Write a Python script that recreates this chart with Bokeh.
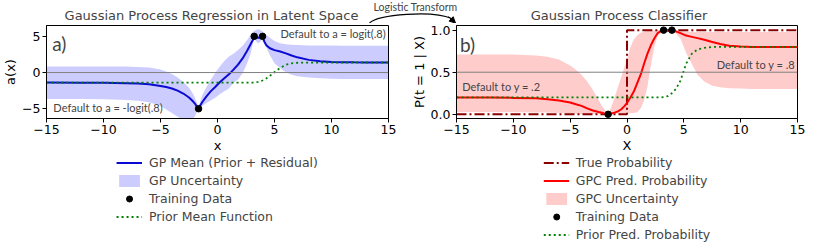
from bokeh.plotting import figure
from bokeh.models import (Range1d, Legend, LegendItem, Label, Arrow, NormalHead,
                          FixedTicker, CustomJSTickFormatter, NumeralTickFormatter, Span)
from bokeh.layouts import column, row
from bokeh.embed import file_html
from bokeh.resources import INLINE

# ---------------- data ----------------
x_ticks = [-15, -10, -5, 0, 5, 10, 15]
a_ticks = [-5, 0, 5]
p_ticks = [0.0, 0.5, 1.0]

# latent space (left panel)
x_lat = [-15, -12, -10, -8, -7, -6, -5, -4.5, -4, -3.5, -3, -2.5, -2.2, -2.0, -1.85, -1.66,
         -1.5, -1.3, -1.0, -0.6, -0.2, 0.2, 0.6, 1.0, 1.4, 1.8, 2.2, 2.6, 2.9, 3.1, 3.22,
         3.4, 3.58, 3.75, 3.95, 4.1, 4.3, 4.6, 5.0, 5.5, 6.0, 6.5, 7.0, 8.0, 9.0, 10, 11, 12, 13, 15]
gp_mean = [-1.39, -1.40, -1.42, -1.47, -1.53, -1.63, -1.85, -2.0, -2.2, -2.5, -2.9, -3.45, -3.9, -4.25, -4.6, -5.0,
           -4.5, -4.0, -3.35, -2.6, -2.0, -1.35, -0.8, -0.25, 0.4, 1.1, 1.95, 3.0, 3.9, 4.5, 5.0,
           4.85, 4.8, 4.85, 5.0, 4.3, 3.75, 3.35, 3.1, 2.9, 2.65, 2.35, 2.1, 1.75, 1.57, 1.47, 1.43, 1.41, 1.4, 1.39]
gp_upper = [0.85, 0.85, 0.85, 0.83, 0.78, 0.68, 0.42, 0.15, -0.2, -0.7, -1.3, -2.1, -2.8, -3.4, -4.0, -4.9,
            -3.9, -3.0, -2.1, -1.0, -0.05, 0.85, 1.6, 2.2, 2.6, 3.1, 3.7, 4.5, 5.2, 5.6, 5.75,
            5.9, 5.97, 5.9, 5.7, 5.45, 5.2, 4.8, 4.35, 4.05, 3.9, 3.83, 3.8, 3.75, 3.73, 3.72, 3.71, 3.7, 3.7, 3.7]
gp_lower = [-3.65, -3.65, -3.68, -3.78, -3.9, -4.1, -4.6, -5.1, -5.6, -6.1, -6.5, -6.6, -6.5, -6.1, -5.6, -5.1,
            -4.9, -4.6, -4.25, -3.85, -3.5, -3.0, -2.6, -2.2, -1.4, -0.95, -0.1, 1.3, 2.6, 4.0, 4.7,
            4.3, 4.0, 4.3, 4.7, 4.1, 3.4, 2.4, 1.3, 0.6, 0.05, -0.3, -0.5, -0.7, -0.8, -0.85, -0.88, -0.9, -0.9, -0.9]
prior_mean = [-1.386, -1.386, -1.386, -1.386, -1.386, -1.386, -1.386, -1.386, -1.386, -1.386, -1.386, -1.386,
              -1.386, -1.386, -1.386, -1.386, -1.386, -1.386, -1.386, -1.386, -1.386, -1.386, -1.386, -1.386,
              -1.386, -1.386, -1.386, -1.386, -1.386, -1.386, -1.37,
              -1.34, -1.3, -1.22, -1.1, -0.98, -0.8, -0.45, 0.05, 0.65, 1.08, 1.28, 1.35, 1.38, 1.386, 1.386,
              1.386, 1.386, 1.386, 1.386]
x_train = [-1.66, 3.22, 3.95]
a_train = [-5.0, 5.0, 5.0]
p_train = [0.0, 1.0, 1.0]

# probability space (right panel)
x_prob = [-15, -12, -10, -8, -7, -6, -5, -4.5, -4, -3.5, -3, -2.5, -2.2, -2.0, -1.85, -1.66,
          -1.4, -1.1, -0.8, -0.5, -0.2, 0.0, 0.3, 0.6, 0.9, 1.2, 1.5, 1.8, 2.1, 2.4, 2.7, 3.0,
          3.22, 3.58, 3.95, 4.3, 4.7, 5.2, 5.7, 6.2, 6.8, 7.5, 8.2, 9.0, 10, 11, 12, 13, 15]
gpc_mean = [0.20, 0.20, 0.195, 0.19, 0.18, 0.165, 0.14, 0.12, 0.1, 0.07, 0.045, 0.028, 0.018, 0.01, 0.005, 0.003,
            0.008, 0.02, 0.035, 0.06, 0.1, 0.135, 0.2, 0.27, 0.37, 0.47, 0.6, 0.72, 0.82, 0.9, 0.965, 0.99,
            0.995, 0.993, 0.995, 0.985, 0.965, 0.935, 0.92, 0.905, 0.885, 0.86, 0.835, 0.815, 0.805, 0.8, 0.8, 0.8, 0.8]
gpc_upper = [0.71, 0.71, 0.71, 0.70, 0.685, 0.65, 0.58, 0.53, 0.47, 0.39, 0.29, 0.17, 0.1, 0.06, 0.03, 0.01,
             0.08, 0.2, 0.32, 0.45, 0.57, 0.65, 0.8, 0.89, 0.94, 0.97, 0.98, 0.99, 0.995, 0.997, 0.998, 0.998,
             0.998, 0.998, 0.998, 0.995, 0.99, 0.985, 0.98, 0.977, 0.977, 0.977, 0.977, 0.977, 0.977, 0.977,
             0.977, 0.977, 0.977]
gpc_lower = [0.025, 0.025, 0.024, 0.022, 0.02, 0.016, 0.01, 0.006, 0.004, 0.002, 0.002, 0.002, 0.002, 0.002,
             0.002, 0.002, 0.003, 0.004, 0.005, 0.006, 0.008, 0.01, 0.012, 0.015, 0.025, 0.07, 0.16, 0.33,
             0.58, 0.8, 0.93, 0.975, 0.985, 0.98, 0.985, 0.96, 0.9, 0.73, 0.6, 0.47, 0.39, 0.34, 0.32, 0.31,
             0.305, 0.3, 0.3, 0.3, 0.3]
prior_prob = [0.2, 0.2, 0.2, 0.2, 0.2, 0.2, 0.2, 0.2, 0.2, 0.2, 0.2, 0.2, 0.2, 0.2, 0.2, 0.2,
              0.2, 0.2, 0.2, 0.2, 0.2, 0.2, 0.2, 0.2, 0.2, 0.2, 0.2, 0.2, 0.2, 0.2, 0.2, 0.2,
              0.205, 0.215, 0.25, 0.3, 0.4, 0.6, 0.72, 0.77, 0.79, 0.8, 0.8, 0.8, 0.8, 0.8, 0.8, 0.8, 0.8]
x_true = [-15, 0, 0, 15]
p_true = [0, 0, 1, 1]

# ---------------- styling ----------------
TICK_FONT = "DejaVu Sans"
NOTE_FONT = "Lato"
FW1, FW2, FH = 342, 341, 93
L1, R1 = 40, 20      # left figure borders
L2, R2 = 46, 8       # right figure borders
ROW_H, ROW_GAP = 15, 3

BLUE = "#0a0ad2"
DARKRED = "#8b0000"

minus_fmt = CustomJSTickFormatter(code="""
    return (tick < 0 ? "\\u2212" : "") + Math.abs(tick).toFixed(0);
""")


def style(p, xlabel, ylabel, yticks, yfmt):
    p.xgrid.visible = False
    p.ygrid.visible = False
    p.outline_line_color = "black"
    p.outline_line_width = 1
    p.xaxis.axis_label = xlabel
    p.yaxis.axis_label = ylabel
    p.xaxis.ticker = FixedTicker(ticks=x_ticks)
    p.yaxis.ticker = FixedTicker(ticks=yticks)
    p.xaxis.formatter = minus_fmt
    p.yaxis.formatter = yfmt
    for ax in p.axis:
        ax.major_tick_out = 4
        ax.major_tick_in = 0
        ax.minor_tick_out = 0
        ax.minor_tick_in = 0
        ax.axis_line_color = "black"
        ax.major_tick_line_color = "black"
        ax.major_label_text_font = TICK_FONT
        ax.major_label_text_font_size = "12.5px"
        ax.major_label_text_color = "black"
        ax.axis_label_text_font = TICK_FONT
        ax.axis_label_text_font_size = "13px"
        ax.axis_label_text_font_style = "normal"
        ax.axis_label_text_color = "black"
        ax.major_label_standoff = 2
        ax.axis_label_standoff = 1


def legend_fig(lb, fw, rb, nrows):
    # legend-only figure; its ranges lie far from the data so only the legend shows
    h = nrows * ROW_H + (nrows - 1) * ROW_GAP + 3
    f = figure(frame_width=fw, frame_height=h, x_range=Range1d(100, 101), y_range=Range1d(100, 101),
               toolbar_location=None, output_backend="svg", x_axis_location=None, y_axis_location=None,
               min_border_left=lb, min_border_right=rb, min_border_top=0, min_border_bottom=0)
    f.grid.visible = False
    f.outline_line_color = None
    return f


def make_legend(items):
    return Legend(items=items, location="top_center", orientation="vertical",
                  label_text_font=TICK_FONT, label_text_font_size="12.5px",
                  glyph_width=26, glyph_height=ROW_H, label_height=ROW_H, spacing=ROW_GAP,
                  padding=0, margin=0, border_line_color=None,
                  background_fill_alpha=0, label_standoff=7)


# ---------------- left panel ----------------
p1 = figure(frame_width=FW1, frame_height=FH, x_range=Range1d(-15, 15), y_range=Range1d(-6.35, 6.5),
            toolbar_location=None, output_backend="svg",
            min_border_left=L1, min_border_right=R1, min_border_top=2, min_border_bottom=0)
style(p1, "x", "a(x)", a_ticks, minus_fmt)

p1.varea(x=x_lat, y1=gp_lower, y2=gp_upper, fill_color="blue", fill_alpha=0.2)
p1.add_layout(Span(location=0, dimension="width", line_color="gray", line_width=1))
p1.line(x_lat, gp_mean, line_color=BLUE, line_width=2)
p1.line(x_lat, prior_mean, line_color="green", line_width=1.8, line_dash="2 3")
p1.scatter(x_train, a_train, size=6.5, color="black")

p1.add_layout(Label(x=-14.5, y=4.0, text="a)", text_font=NOTE_FONT, text_font_size="19px",
                    text_baseline="middle", text_align="left"))
p1.add_layout(Label(x=14.75, y=5.4, text="Default to a = logit(.8)", text_font=NOTE_FONT,
                    text_font_size="11px", text_baseline="middle", text_align="right"))
p1.add_layout(Label(x=-14.4, y=-4.8, text="Default to a = -logit(.8)", text_font=NOTE_FONT,
                    text_font_size="11px", text_baseline="middle", text_align="left"))

lg1 = legend_fig(L1, FW1, R1, 4)
k1 = lg1.line(x_lat, gp_mean, line_color=BLUE, line_width=2)
k2 = lg1.varea(x=x_lat, y1=gp_lower, y2=gp_upper, fill_color="blue", fill_alpha=0.2)
k3 = lg1.scatter(x_train, a_train, size=6.5, color="black")
k4 = lg1.line(x_lat, prior_mean, line_color="green", line_width=1.8, line_dash="2 3")
lg1.add_layout(make_legend([
    LegendItem(label="GP Mean (Prior + Residual)", renderers=[k1]),
    LegendItem(label="GP Uncertainty", renderers=[k2]),
    LegendItem(label="Training Data", renderers=[k3]),
    LegendItem(label="Prior Mean Function", renderers=[k4]),
]))

# ---------------- right panel ----------------
p2 = figure(frame_width=FW2, frame_height=FH, x_range=Range1d(-15, 15), y_range=Range1d(-0.05, 1.055),
            toolbar_location=None, output_backend="svg",
            min_border_left=L2, min_border_right=R2, min_border_top=2, min_border_bottom=0)
style(p2, "X", "P(t = 1 | X)", p_ticks, NumeralTickFormatter(format="0.0"))

p2.varea(x=x_prob, y1=gpc_lower, y2=gpc_upper, fill_color="red", fill_alpha=0.2)
p2.add_layout(Span(location=0.5, dimension="width", line_color="gray", line_width=1))
p2.line(x_true, p_true, line_color=DARKRED, line_width=2, line_dash="10 3 2 3")
p2.line(x_prob, gpc_mean, line_color="red", line_width=2)
p2.line(x_prob, prior_prob, line_color="green", line_width=1.8, line_dash="2 3")
p2.scatter(x_train, p_train, size=6.5, color="black")

p2.add_layout(Label(x=-14.7, y=0.83, text="b)", text_font=NOTE_FONT, text_font_size="19px",
                    text_baseline="middle", text_align="left"))
p2.add_layout(Label(x=-14.5, y=0.335, text="Default to y = .2", text_font=NOTE_FONT,
                    text_font_size="11px", text_baseline="middle", text_align="left"))
p2.add_layout(Label(x=14.8, y=0.59, text="Default to y = .8", text_font=NOTE_FONT,
                    text_font_size="11px", text_baseline="middle", text_align="right"))

lg2 = legend_fig(L2, FW2, R2, 5)
m1 = lg2.line(x_true, p_true, line_color=DARKRED, line_width=2, line_dash="10 3 2 3")
m2 = lg2.line(x_prob, gpc_mean, line_color="red", line_width=2)
m3 = lg2.varea(x=x_prob, y1=gpc_lower, y2=gpc_upper, fill_color="red", fill_alpha=0.2)
m4 = lg2.scatter(x_train, p_train, size=6.5, color="black")
m5 = lg2.line(x_prob, prior_prob, line_color="green", line_width=1.8, line_dash="2 3")
lg2.add_layout(make_legend([
    LegendItem(label="True Probability", renderers=[m1]),
    LegendItem(label="GPC Pred. Probability", renderers=[m2]),
    LegendItem(label="GPC Uncertainty", renderers=[m3]),
    LegendItem(label="Training Data", renderers=[m4]),
    LegendItem(label="Prior Pred. Probability", renderers=[m5]),
]))

# ---------------- top strip: titles + logistic transform arrow ----------------
SW, SH = L1 + FW1 + R1 + L2 + FW2 + R2, 23
strip = figure(frame_width=SW, frame_height=SH, x_range=Range1d(0, SW), y_range=Range1d(SH, 0),
               toolbar_location=None, output_backend="svg", x_axis_location=None, y_axis_location=None,
               min_border=0)
strip.grid.visible = False
strip.outline_line_color = None

c1 = L1 + FW1 / 2
c2 = L1 + FW1 + R1 + L2 + FW2 / 2
strip.add_layout(Label(x=c1, y=14.5, text="Gaussian Process Regression in Latent Space", text_font=TICK_FONT,
                       text_font_size="13px", text_align="center", text_baseline="middle"))
strip.add_layout(Label(x=c2, y=14.5, text="Gaussian Process Classifier", text_font=TICK_FONT,
                       text_font_size="13px", text_align="center", text_baseline="middle"))
strip.add_layout(Label(x=415, y=6, text="Logistic Transform", text_font=NOTE_FONT,
                       text_font_size="10.5px", text_align="center", text_baseline="middle"))
strip.bezier(x0=[369], y0=[22.5], x1=[451], y1=[18], cx0=[378], cy0=[14], cx1=[432], cy1=[9.5],
             line_color="black", line_width=1.1)
strip.add_layout(Arrow(end=NormalHead(size=6, fill_color="black", line_color="black"),
                       x_start=448, y_start=16, x_end=455, y_end=22.5, line_color="black", line_width=1))

layout = column(strip,
                row(column(p1, lg1, spacing=0), column(p2, lg2, spacing=0), spacing=0),
                spacing=0)

with open("out.html", "w") as f:
    f.write(file_html(layout, INLINE))
